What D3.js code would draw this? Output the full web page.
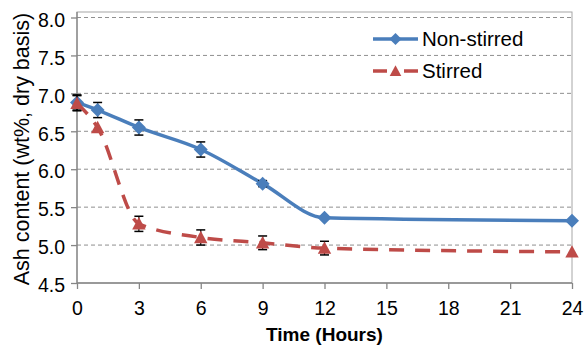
<!DOCTYPE html>
<html>
<head>
<meta charset="utf-8">
<script src="https://cdnjs.cloudflare.com/ajax/libs/d3/7.8.5/d3.min.js"></script>
<style>
  body { margin: 0; background: #fff; }
  svg { display: block; font-family: "Liberation Sans", Arial, sans-serif; }
</style>
</head>
<body>
<svg id="chart" width="584" height="345"></svg>
<script>
// data
const hours = [0, 1, 3, 6, 9, 12, 24]
const nonStirred = [6.88, 6.78, 6.55, 6.26, 5.81, 5.36, 5.32]
const nonStirredErr = [0.1, 0.1, 0.1, 0.1, 0.04, 0, 0]
const stirred = [6.87, 6.55, 5.28, 5.10, 5.03, 4.96, 4.91]
const stirredErr = [0.1, 0, 0.1, 0.1, 0.09, 0.09, 0]
const xTicks = [0, 3, 6, 9, 12, 15, 18, 21, 24]
const yTicks = [4.5, 5.0, 5.5, 6.0, 6.5, 7.0, 7.5, 8.0]
const seriesNames = ["Non-stirred", "Stirred"]

const BLUE = "#4a7ebb", RED = "#be4b48", AXIS = "#868686"
const plotL = 77, plotR = 572, plotT = 12, plotB = 283

const svg = d3.select("#chart")
const x = d3.scaleLinear().domain([0, 24]).range([plotL, plotR])
const y = d3.scaleLinear().domain([4.5, 8.0]).range([plotB, 17.5])

// plot area border
svg.append("rect")
  .attr("x", plotL).attr("y", plotT)
  .attr("width", plotR - plotL).attr("height", plotB - plotT)
  .attr("fill", "none").attr("stroke", "#a6a6a6").attr("stroke-width", 1)

// gridlines
svg.append("g").selectAll("line")
  .data(yTicks.filter(d => d > 4.5))
  .enter().append("line")
  .attr("x1", plotL).attr("x2", plotR)
  .attr("y1", d => y(d)).attr("y2", d => y(d))
  .attr("stroke", "#8f8f8f").attr("stroke-width", 1)
  .attr("stroke-dasharray", "4,3")

// axes
const yAxis = d3.axisLeft(y).tickValues(yTicks).tickFormat(d3.format(".1f")).tickSize(6).tickPadding(6)
const xAxis = d3.axisBottom(x).tickValues(xTicks).tickSize(6).tickPadding(12)

const gy = svg.append("g").attr("transform", `translate(${plotL},0)`).call(yAxis)
const gx = svg.append("g").attr("transform", `translate(0,${plotB})`).call(xAxis)
gy.select(".domain").attr("d", `M0,${plotT}V${plotB}`)
gx.select(".domain").attr("d", `M${plotL},0H${plotR}`)
for (const g of [gx, gy]) {
  g.select(".domain").attr("stroke", AXIS).attr("stroke-width", 1.3)
  g.selectAll(".tick line").attr("stroke", AXIS).attr("stroke-width", 1.3)
  g.selectAll(".tick text")
    .attr("fill", "#000")
    .style("font-size", "19.5px")
    .style("font-family", "'Liberation Sans', Arial, sans-serif")
}
gy.selectAll(".tick text").attr("dy", "0.45em")

// axis titles
svg.append("text")
  .attr("x", (plotL + plotR) / 2).attr("y", 341)
  .attr("text-anchor", "middle")
  .style("font-size", "19px").style("font-weight", "bold")
  .text("Time (Hours)")

svg.append("text")
  .attr("transform", `translate(29,149) rotate(-90)`)
  .attr("text-anchor", "middle")
  .style("font-size", "21.5px")
  .text("Ash content (wt%, dry basis)")

// marker shapes
const diamond = {
  draw(ctx, size) {
    const r = Math.sqrt(size) / 2
    ctx.moveTo(0, -r); ctx.lineTo(r, 0); ctx.lineTo(0, r); ctx.lineTo(-r, 0); ctx.closePath()
  }
}
const triangle = {
  draw(ctx, size) {
    const r = Math.sqrt(size) / 2
    ctx.moveTo(0, -r); ctx.lineTo(r, r * 0.85); ctx.lineTo(-r, r * 0.85); ctx.closePath()
  }
}

const line = d3.line().curve(d3.curveMonotoneX)
  .x(d => x(d[0])).y(d => y(d[1]))

const series = [
  {name: seriesNames[0], vals: nonStirred, err: nonStirredErr, color: BLUE, dash: null, sym: diamond, size: 196},
  {name: seriesNames[1], vals: stirred, err: stirredErr, color: RED, dash: "15,11", sym: triangle, size: 180}
]

series.forEach(s => {
  const pts = hours.map((h, i) => [h, s.vals[i], s.err[i]])
  const g = svg.append("g")
  g.append("path")
    .attr("d", line(pts))
    .attr("fill", "none")
    .attr("stroke", s.color)
    .attr("stroke-width", 3.5)
    .attr("stroke-dasharray", s.dash)

  // error bars
  const eb = g.selectAll(".eb").data(pts.filter(p => p[2] > 0)).enter().append("g")
  eb.append("line")
    .attr("x1", d => x(d[0])).attr("x2", d => x(d[0]))
    .attr("y1", d => y(d[1] - d[2])).attr("y2", d => y(d[1] + d[2]))
    .attr("stroke", "#000").attr("stroke-width", 1.2)
  for (const sign of [-1, 1]) {
    eb.append("line")
      .attr("x1", d => x(d[0]) - 4.5).attr("x2", d => x(d[0]) + 4.5)
      .attr("y1", d => y(d[1] + sign * d[2])).attr("y2", d => y(d[1] + sign * d[2]))
      .attr("stroke", "#000").attr("stroke-width", 1.5)
  }

  g.selectAll(".mk").data(pts).enter().append("path")
    .attr("d", d3.symbol().type(s.sym).size(s.size))
    .attr("transform", d => `translate(${x(d[0])},${y(d[1])})`)
    .attr("fill", s.color)
})

// legend
const legend = svg.append("g")
series.forEach((s, i) => {
  const ly = 39 + i * 32
  legend.append("line")
    .attr("x1", 373).attr("x2", 418)
    .attr("y1", ly).attr("y2", ly)
    .attr("stroke", s.color).attr("stroke-width", 3.5)
    .attr("stroke-dasharray", s.dash ? "14,17" : null)
  legend.append("path")
    .attr("d", d3.symbol().type(s.sym).size(s.size * 0.75))
    .attr("transform", `translate(395.5,${ly})`)
    .attr("fill", s.color)
  legend.append("text")
    .attr("x", 422).attr("y", ly + 7)
    .style("font-size", "20.5px")
    .text(s.name)
})
</script>
</body>
</html>
